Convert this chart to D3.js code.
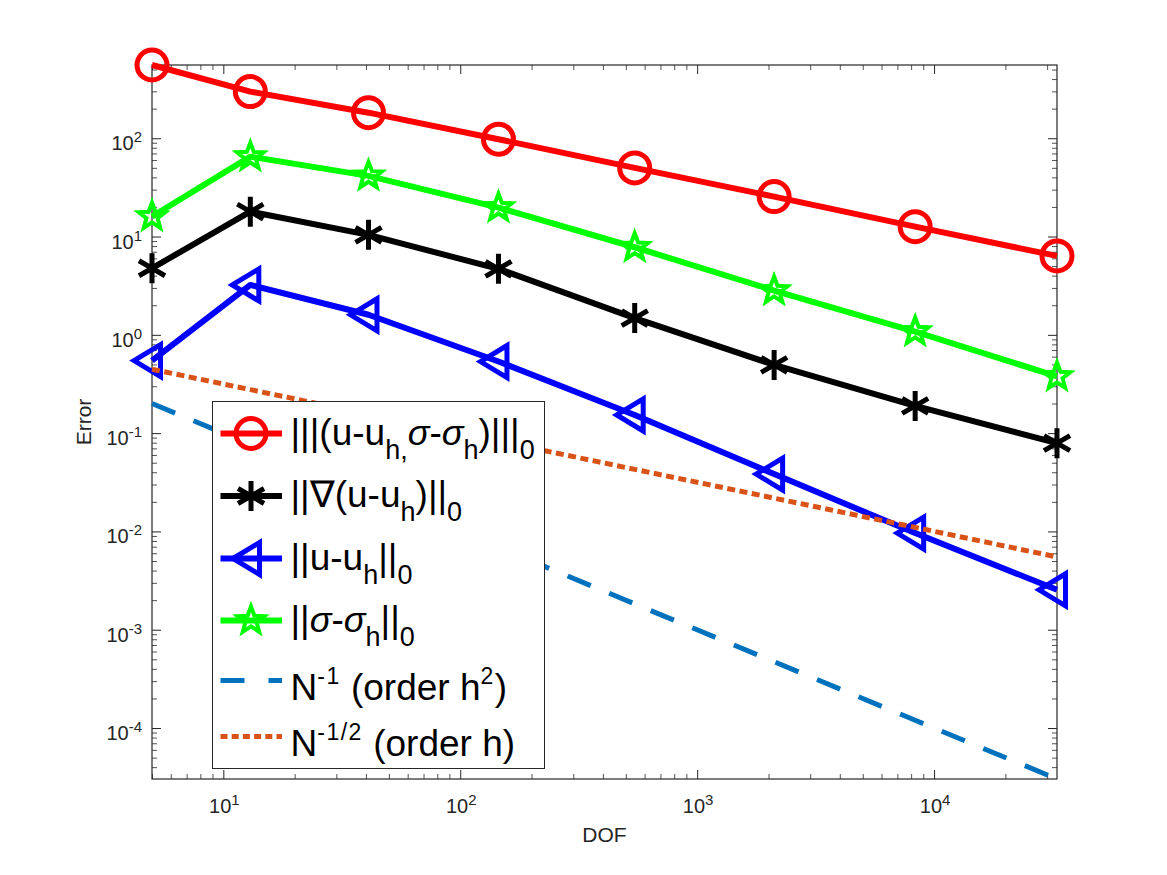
<!DOCTYPE html>
<html>
<head>
<meta charset="utf-8">
<script src="https://cdn.jsdelivr.net/npm/d3@7"></script>
<style>
  body { margin: 0; background: #fff; }
  text { font-family: "Liberation Sans", Arial, Helvetica, sans-serif; }
</style>
</head>
<body>
<div id="chart"></div>
<script>
// values
const dof = [5, 13, 41, 145, 545, 2113, 8321, 33025];
const errEnergy = [556, 298, 182, 97.7, 49.9, 25.5, 12.6, 6.35];
const errGrad = [4.76, 17.9, 10.4, 4.69, 1.48, 0.494, 0.189, 0.079];
const errL2 = [0.547, 3.22, 1.6, 0.535, 0.153, 0.0383, 0.00962, 0.00255];
const errSigma = [16.0, 65.0, 41.4, 19.7, 7.78, 2.82, 1.08, 0.377];
const refOrder2 = [0.2, 0.0769, 0.0244, 0.0069, 0.00183, 0.000473, 0.00012, 0.0000303];
const refOrder1 = [0.447, 0.277, 0.156, 0.083, 0.0428, 0.0218, 0.011, 0.0055];

const xTickExp = [1, 2, 3, 4];
const yTickExp = [-4, -3, -2, -1, 0, 1, 2];

// legend labels: [text, kind] kind = "" | "sub" | "sup" | "it"
const legendLabels = [
  [["|||(u-u"], ["h", "sub"], [",", "sub"], ["σ", "it"], ["-"], ["σ", "it"], ["h", "sub"], [")|||"], ["0", "sub"]],
  [["||∇(u-u"], ["h", "sub"], [")||"], ["0", "sub"]],
  [["||u-u"], ["h", "sub"], ["||"], ["0", "sub"]],
  [["||"], ["σ", "it"], ["-"], ["σ", "it"], ["h", "sub"], ["||"], ["0", "sub"]],
  [["N"], ["-1", "sup"], [" (order h"], ["2", "sup"], [")"]],
  [["N"], ["-1/2", "sup"], [" (order h)"]]
];

const w = 1167;
const h = 875;
const pLeft = 152, pRight = 1057, pTop = 65, pBottom = 779;
const ink = "#262626";

const series = [
  { values: errEnergy, color: "#ff0000", marker: "circle" },
  { values: errGrad, color: "#000000", marker: "asterisk" },
  { values: errL2, color: "#0000ff", marker: "triangle" },
  { values: errSigma, color: "#00ff00", marker: "star" },
  { values: refOrder2, color: "#0072bd", marker: null, dash: "25,20", width: 5 },
  { values: refOrder1, color: "#d95319", marker: null, dash: "8,4.5", width: 5 }
];

const svg = d3.select("#chart").append("svg")
  .attr("width", w)
  .attr("height", h);

const allVals = series.flatMap(s => s.values);
const x = d3.scaleLog().domain(d3.extent(dof)).range([pLeft, pRight]);
const y = d3.scaleLog().domain(d3.extent(allVals)).range([pBottom, pTop]);

// tick values (major decades + minor 2..9)
const minorTicks = function (scale) {
  const [a, b] = scale.domain();
  const out = [];
  for (let e = Math.floor(Math.log10(a)); e <= Math.ceil(Math.log10(b)); e++) {
    for (let k = 2; k <= 9; k++) {
      const v = k * Math.pow(10, e);
      if (v >= a && v <= b) out.push(v);
    }
  }
  return out;
};

const xMajor = xTickExp.map(e => Math.pow(10, e));
const yMajor = yTickExp.map(e => Math.pow(10, e));

const axisDefs = [
  [d3.axisBottom, x, `translate(0,${pBottom})`],
  [d3.axisTop, x, `translate(0,${pTop})`],
  [d3.axisLeft, y, `translate(${pLeft},0)`],
  [d3.axisRight, y, `translate(${pRight},0)`]
];

axisDefs.forEach(([ax, sc, tr]) => {
  const major = sc === x ? xMajor : yMajor;
  svg.append("g").attr("transform", tr)
    .call(ax(sc).tickValues(minorTicks(sc)).tickSize(-5).tickSizeOuter(0).tickFormat(""))
    .call(g => g.select(".domain").remove())
    .call(g => g.selectAll("line").attr("stroke", ink).attr("stroke-width", 0.8));
  svg.append("g").attr("transform", tr)
    .call(ax(sc).tickValues(major).tickSize(-9).tickSizeOuter(0).tickFormat(""))
    .call(g => g.select(".domain").remove())
    .call(g => g.selectAll("line").attr("stroke", ink).attr("stroke-width", 1));
});

// box
svg.append("rect")
  .attr("x", pLeft).attr("y", pTop)
  .attr("width", pRight - pLeft).attr("height", pBottom - pTop)
  .attr("fill", "none").attr("stroke", ink).attr("stroke-width", 1.2);

// tick labels 10^n
const tickLabel = function (sel, e) {
  sel.append("tspan").text("10");
  sel.append("tspan").attr("font-size", 15).attr("dy", -8).text(e);
};

svg.append("g").selectAll("text")
  .data(xTickExp).enter().append("text")
  .attr("x", e => x(Math.pow(10, e)) + 1)
  .attr("y", 813)
  .attr("text-anchor", "middle")
  .attr("font-size", 20)
  .attr("fill", ink)
  .each(function (e) { tickLabel(d3.select(this), e); });

svg.append("g").selectAll("text")
  .data(yTickExp).enter().append("text")
  .attr("x", 142)
  .attr("y", e => y(Math.pow(10, e)) + 12)
  .attr("text-anchor", "end")
  .attr("font-size", 20)
  .attr("fill", ink)
  .each(function (e) { tickLabel(d3.select(this), e); });

// axis labels
svg.append("text")
  .attr("x", (pLeft + pRight) / 2).attr("y", 842)
  .attr("text-anchor", "middle").attr("font-size", 21).attr("fill", ink)
  .text("DOF");

svg.append("text")
  .attr("transform", `translate(90.5,${(pTop + pBottom) / 2}) rotate(-90)`)
  .attr("text-anchor", "middle").attr("font-size", 21).attr("fill", ink)
  .text("Error");

// markers
const markerPath = function (type) {
  if (type === "asterisk") {
    const r = 15;
    const c = r * Math.cos(Math.PI / 6), s = r * Math.sin(Math.PI / 6);
    return `M0,${-r}V${r}M${-c},${-s}L${c},${s}M${-c},${s}L${c},${-s}`;
  }
  if (type === "triangle") {
    return "M-18,0L8.5,-16L8.5,16Z";
  }
  if (type === "star") {
    const R = 14, ri = R * 0.42;
    const pts = d3.range(10).map(i => {
      const a = -Math.PI / 2 + i * Math.PI / 5;
      const rr = i % 2 === 0 ? R : ri;
      return [rr * Math.cos(a), rr * Math.sin(a)];
    });
    return "M" + pts.join("L") + "Z";
  }
  return d3.symbol(d3.symbolCircle, Math.PI * 15 * 15)();
};

const markerWidth = m => (m === "star" ? 4 : 5);

const line = d3.line().x(d => x(d[0])).y(d => y(d[1]));

series.forEach(s => {
  const pts = dof.map((n, i) => [n, s.values[i]]);
  const g = svg.append("g");
  g.append("path")
    .attr("d", line(pts))
    .attr("fill", "none")
    .attr("stroke", s.color)
    .attr("stroke-width", s.width || 6)
    .attr("stroke-linejoin", "round")
    .attr("stroke-dasharray", s.dash || null);
  if (s.marker) {
    g.selectAll(".m").data(pts).enter().append("path")
      .attr("transform", d => `translate(${x(d[0])},${y(d[1])})`)
      .attr("d", markerPath(s.marker))
      .attr("fill", "none")
      .attr("stroke", s.color)
      .attr("stroke-width", markerWidth(s.marker))
      .attr("stroke-linejoin", "miter");
  }
});

// legend
const legX = 212.5, legY = 401.5;
const rowMid = [32, 94.5, 157, 219, 279, 335];

const leg = svg.append("g").attr("transform", `translate(${legX},${legY})`);
leg.append("rect")
  .attr("width", 332).attr("height", 367)
  .attr("fill", "#fff").attr("stroke", ink).attr("stroke-width", 1);

const writeRich = function (sel, segs) {
  let off = 0;
  segs.forEach(([t, kind]) => {
    let target = 0, size = 37, ls = null, style = null;
    if (kind === "sub") { target = 14; size = 27; }
    if (kind === "sup") { target = -16; size = 23; ls = 1.5; }
    if (kind === "it") { style = "italic"; size = 36; }
    sel.append("tspan")
      .attr("dy", target - off)
      .attr("font-size", size)
      .attr("font-style", style)
      .attr("letter-spacing", ls)
      .text(t);
    off = target;
  });
};

series.forEach((s, i) => {
  const cy = rowMid[i];
  const row = leg.append("g");
  row.append("line")
    .attr("x1", 8).attr("x2", 69.5).attr("y1", cy).attr("y2", cy)
    .attr("stroke", s.color)
    .attr("stroke-width", s.width || 6)
    .attr("stroke-dasharray", s.dash ? (i === 4 ? "24,24" : "7,4.2") : null);
  if (s.marker) {
    row.append("path")
      .attr("transform", `translate(38.5,${cy})`)
      .attr("d", markerPath(s.marker))
      .attr("fill", "none")
      .attr("stroke", s.color)
      .attr("stroke-width", markerWidth(s.marker));
  }
  const hasSup = legendLabels[i].some(d => d[1] === "sup");
  const txt = row.append("text")
    .attr("x", 78)
    .attr("y", cy + (hasSup ? 19 : 11))
    .attr("fill", "#000");
  writeRich(txt, legendLabels[i]);
});
</script>
</body>
</html>
